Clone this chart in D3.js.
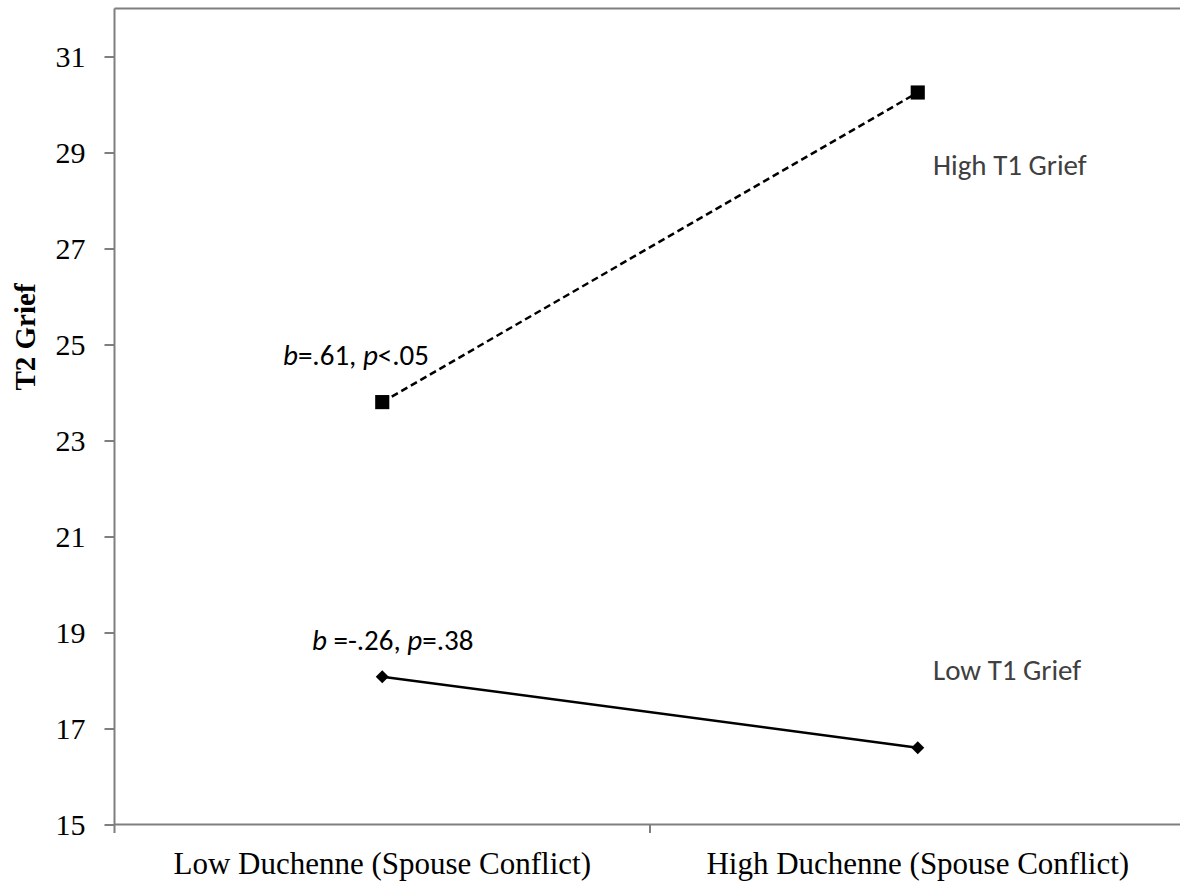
<!DOCTYPE html>
<html>
<head>
<meta charset="utf-8">
<script src="https://cdn.jsdelivr.net/npm/d3@7"></script>
<style>
  html, body { margin: 0; padding: 0; background: #fff; }
  svg { display: block; }
</style>
</head>
<body>
<svg id="chart" width="1180" height="884"></svg>
<script>
// ---- data ----
const categories = ["Low Duchenne (Spouse Conflict)", "High Duchenne (Spouse Conflict)"];
const highT1Grief = [23.8, 30.25];
const lowT1Grief = [18.08, 16.6];
const yTicks = [15, 17, 19, 21, 23, 25, 27, 29, 31];
const seriesNames = ["High T1 Grief", "Low T1 Grief"];

const svg = d3.select("#chart");
const margin = { left: 114.5, top: 8.5, right: -5.5, bottom: 59.5 };
const W = 1180, H = 884;

const x = d3.scaleBand().domain(categories)
  .range([margin.left, W - margin.right]).paddingInner(0).paddingOuter(0);
const y = d3.scaleLinear().domain([15, 32]).range([H - margin.bottom, margin.top]);
const y0 = y(15);

const axisColor = "#7f7f7f";
const serif = "'Liberation Serif', 'Times New Roman', serif";

// top border
svg.append("line")
  .attr("x1", margin.left).attr("x2", W)
  .attr("y1", margin.top).attr("y2", margin.top)
  .attr("stroke", axisColor).attr("stroke-width", 2);

// y axis
const yAxis = svg.append("g")
  .attr("transform", `translate(${margin.left},0)`)
  .call(d3.axisLeft(y).tickValues(yTicks).tickSize(10).tickPadding(19).tickFormat(d3.format("d")));
yAxis.select(".domain").remove();
yAxis.append("line").attr("x1", 0).attr("x2", 0)
  .attr("y1", margin.top).attr("y2", y0 + 8.5)
  .attr("stroke", axisColor).attr("stroke-width", 2);
yAxis.selectAll(".tick line").attr("stroke", axisColor).attr("stroke-width", 2);
yAxis.selectAll(".tick text")
  .attr("font-family", serif)
  .attr("font-size", 30).attr("fill", "#000");

// x axis
const xAxis = svg.append("g")
  .attr("transform", `translate(0,${y0})`)
  .call(d3.axisBottom(x).tickSize(0).tickPadding(27));
xAxis.select(".domain").remove();
xAxis.append("line").attr("x1", margin.left).attr("x2", W)
  .attr("y1", 0).attr("y2", 0)
  .attr("stroke", axisColor).attr("stroke-width", 2);
const boundaries = [x(categories[1])];
xAxis.selectAll(".btick").data(boundaries).enter().append("line")
  .attr("x1", d => d).attr("x2", d => d).attr("y1", 0).attr("y2", 8.5)
  .attr("stroke", axisColor).attr("stroke-width", 2);
xAxis.selectAll(".tick text")
  .attr("font-family", serif)
  .attr("font-size", 31).attr("fill", "#000");

// y axis title
svg.append("text")
  .attr("transform", `translate(35,${337}) rotate(-90)`)
  .attr("text-anchor", "middle")
  .attr("font-family", serif)
  .attr("font-weight", "bold").attr("font-size", 29)
  .text("T2 Grief");

const cx = d => x(d) + x.bandwidth() / 2;
const line = d3.line().x(d => cx(d.c)).y(d => y(d.v));

const highData = categories.map((c, i) => ({ c, v: highT1Grief[i] }));
const lowData = categories.map((c, i) => ({ c, v: lowT1Grief[i] }));

svg.append("path").datum(highData).attr("d", line)
  .attr("fill", "none").attr("stroke", "#000").attr("stroke-width", 2.5)
  .attr("stroke-dasharray", "7,4");
svg.append("path").datum(lowData).attr("d", line)
  .attr("fill", "none").attr("stroke", "#000").attr("stroke-width", 2.5);

svg.selectAll(".sq").data(highData).enter().append("path")
  .attr("transform", d => `translate(${cx(d.c)},${y(d.v)})`)
  .attr("d", d3.symbol().type(d3.symbolSquare).size(200))
  .attr("fill", "#000");
svg.selectAll(".dm").data(lowData).enter().append("path")
  .attr("transform", d => `translate(${cx(d.c)},${y(d.v)}) rotate(45)`)
  .attr("d", d3.symbol().type(d3.symbolSquare).size(85))
  .attr("fill", "#000");

// series labels
const labelFont = "Carlito, Calibri, 'Open Sans', Lato, sans-serif";
svg.append("text").attr("x", 933).attr("y", 175)
  .attr("font-family", labelFont).attr("font-size", 29).attr("fill", "#404040")
  .text(seriesNames[0]);
svg.append("text").attr("x", 933).attr("y", 680)
  .attr("font-family", labelFont).attr("font-size", 29).attr("fill", "#404040")
  .text(seriesNames[1]);

// annotations
const a1 = svg.append("text").attr("x", 283).attr("y", 365)
  .attr("font-family", labelFont).attr("font-size", 29).attr("fill", "#000");
a1.append("tspan").attr("font-style", "italic").text("b");
a1.append("tspan").text("=.61, ");
a1.append("tspan").attr("font-style", "italic").text("p");
a1.append("tspan").text("<.05");

const a2 = svg.append("text").attr("x", 312).attr("y", 650)
  .attr("font-family", labelFont).attr("font-size", 29).attr("fill", "#000");
a2.append("tspan").attr("font-style", "italic").text("b");
a2.append("tspan").text(" =-.26, ");
a2.append("tspan").attr("font-style", "italic").text("p");
a2.append("tspan").text("=.38");
</script>
</body>
</html>
